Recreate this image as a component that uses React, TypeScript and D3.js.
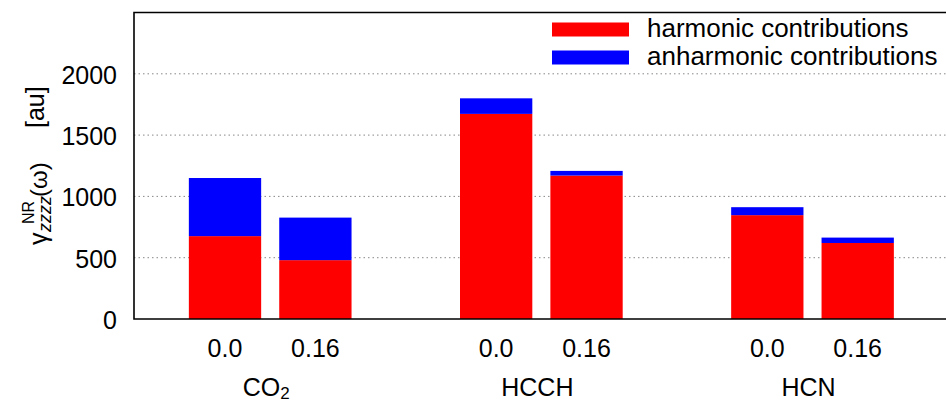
import React from 'react';
import * as d3 from 'd3';

const molecules = ['CO₂', 'HCCH', 'HCN'];
const conditions = ['0.0', '0.16'];
// one entry per bar, ordered molecule by molecule
const harmonic = [676, 480, 1673, 1170, 847, 620];
const anharmonic = [474, 347, 127, 38, 65, 44];
const yTicks = [0, 500, 1000, 1500, 2000];

const width = 946;
const height = 402;
const margin = { top: 12.5, left: 134, bottom: 83 };
const FONT = '"Liberation Sans", Arial, sans-serif';

export default function App() {
  const plotBottom = height - margin.bottom;

  // each molecule takes two slots, with an empty slot between groups
  const slotOf = (m: number, c: number) => m * 3 + c;
  const x = d3.scaleLinear().domain([0, 7]).range([225, 857.7]);
  const slotW = x(1) - x(0);
  const barW = slotW * 0.8;

  const y = d3.scaleLinear().domain([0, 2500]).range([plotBottom, margin.top]);

  const bars = molecules.flatMap((mol, m) =>
    conditions.map((cond, c) => {
      const i = m * conditions.length + c;
      return { mol, cond, cx: x(slotOf(m, c)), h: harmonic[i], a: anharmonic[i] };
    })
  );

  return (
    <svg
      width={width}
      height={height}
      style={{ position: 'absolute', left: 0, top: 0, background: '#fff' }}
      fontFamily={FONT}
    >
      {/* grid */}
      {yTicks.filter((t) => t > 0).map((t) => (
        <line
          key={t}
          x1={margin.left}
          x2={width}
          y1={y(t)}
          y2={y(t)}
          stroke="#888"
          strokeWidth={1}
          strokeDasharray="1.5,3"
        />
      ))}

      {/* bars */}
      {bars.map((b) => (
        <g key={b.mol + b.cond}>
          <rect x={b.cx - barW / 2} y={y(b.h)} width={barW} height={y(0) - y(b.h)} fill="#ff0000" />
          <rect x={b.cx - barW / 2} y={y(b.h + b.a)} width={barW} height={y(b.h) - y(b.h + b.a)} fill="#0000ff" />
          <text x={b.cx} y={357} textAnchor="middle" fontSize={25}>
            {b.cond}
          </text>
        </g>
      ))}

      {/* group labels */}
      {molecules.map((mol, m) => {
        const cx = (x(slotOf(m, 0)) + x(slotOf(m, 1))) / 2 - 4;
        if (mol === 'CO₂') {
          return (
            <text key={mol} x={cx} y={396} textAnchor="middle" fontSize={25}>
              CO<tspan fontSize={17} dy={3}>2</tspan>
            </text>
          );
        }
        return (
          <text key={mol} x={cx} y={396} textAnchor="middle" fontSize={25}>
            {mol}
          </text>
        );
      })}

      {/* frame */}
      <path
        d={`M${width + 5},${margin.top}H${margin.left}V${plotBottom}H${width + 5}`}
        fill="none"
        stroke="#000"
        strokeWidth={1.6}
      />

      {/* y tick labels */}
      {yTicks.map((t) => (
        <text key={t} x={117} y={y(t) + 10} textAnchor="end" fontSize={25}>
          {t}
        </text>
      ))}

      {/* y axis label */}
      <g transform="translate(47,245) rotate(-90)">
        <text x={0} y={0} fontSize={25}>γ</text>
        <text x={21} y={-13} fontSize={16}>NR</text>
        <text x={13} y={4} fontSize={18} fontStyle="italic">zzzz</text>
        <text x={48} y={0} fontSize={24}>(ω)</text>
        <text x={117} y={-3} fontSize={25}>[au]</text>
      </g>

      {/* legend */}
      <rect x={552} y={22.5} width={77} height={14} fill="#ff0000" />
      <rect x={552} y={50.5} width={77} height={14} fill="#0000ff" />
      <text x={647} y={37} fontSize={26}>harmonic contributions</text>
      <text x={647} y={65} fontSize={26}>anharmonic contributions</text>
    </svg>
  );
}
